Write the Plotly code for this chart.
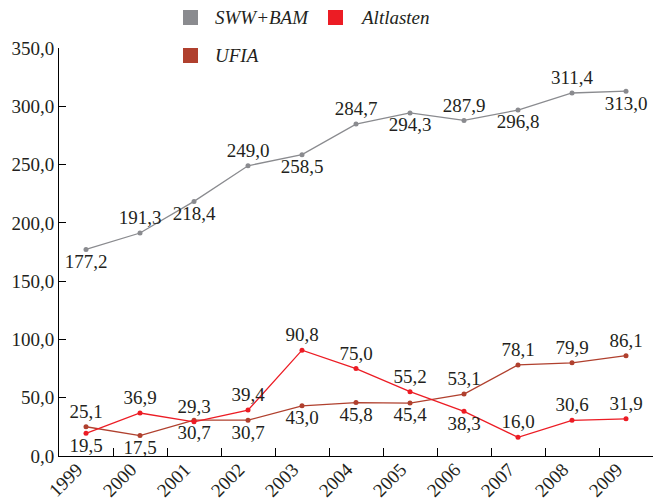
import plotly.graph_objects as go

years = ["1999", "2000", "2001", "2002", "2003", "2004", "2005", "2006", "2007", "2008", "2009"]
sww_bam = [177.2, 191.3, 218.4, 249.0, 258.5, 284.7, 294.3, 287.9, 296.8, 311.4, 313.0]
altlasten = [19.5, 36.9, 29.3, 39.4, 90.8, 75.0, 55.2, 38.3, 16.0, 30.6, 31.9]
ufia = [25.1, 17.5, 30.7, 30.7, 43.0, 45.8, 45.4, 53.1, 78.1, 79.9, 86.1]
y_ticks = [0, 50, 100, 150, 200, 250, 300, 350]

# label placement styles (not data)
pos_sww = ["bottom center", "top center", "bottom center", "top center", "bottom center", "top center",
           "bottom center", "top center", "bottom center", "top center", "bottom center"]
pos_alt = ["bottom center", "top center", "top center", "top center", "top center", "top center",
           "top center", "bottom center", "top center", "top center", "top center"]
pos_ufia = ["top center", "bottom center", "bottom center", "bottom center", "bottom center", "bottom center",
            "bottom center", "top center", "top center", "top center", "top center"]

C_GRAY = "#8a8b8f"
C_RED = "#ec1c24"
C_BROWN = "#b0402e"
FONT = "Liberation Serif"
LBL = dict(family=FONT, size=19, color="#231f20")

fig = go.Figure()
for name, vals, col, pos in [("SWW+BAM", sww_bam, C_GRAY, pos_sww),
                             ("UFIA", ufia, C_BROWN, pos_ufia),
                             ("Altlasten", altlasten, C_RED, pos_alt)]:
    fig.add_trace(go.Scatter(
        x=years, y=vals, name=name, mode="lines+markers+text",
        line=dict(color=col, width=1.3), marker=dict(color=col, size=5),
        texttemplate="%{y:.1f}", textposition=pos, textfont=LBL,
        showlegend=False, cliponaxis=False, hoverinfo="skip"))

# manual legend (pixel -> paper conversion)
L, R, T, B = 59, 653, 48, 456
def px(x): return (x - L) / (R - L)
def py(y): return (B - y) / (B - T)

legend_items = [("SWW+BAM", C_GRAY, 183, 10), ("Altlasten", C_RED, 328, 10), ("UFIA", C_BROWN, 183, 48)]
for name, col, x0, y0 in legend_items:
    fig.add_shape(type="rect", xref="paper", yref="paper",
                  x0=px(x0), x1=px(x0 + 15), y0=py(y0 + 15), y1=py(y0),
                  fillcolor=col, line=dict(width=0))
    fig.add_annotation(xref="paper", yref="paper", x=px(x0 + 30), y=py(y0 + 7.5),
                       text="<i>" + name + "</i>", showarrow=False, xanchor="left", yanchor="middle",
                       font=dict(family=FONT, size=19, color="#231f20"))

fig.update_layout(
    width=667, height=502,
    margin=dict(l=L, r=667 - R, t=T, b=502 - B, autoexpand=False),
    plot_bgcolor="white", paper_bgcolor="white",
    separators=",.",
    font=dict(family=FONT, size=19, color="#231f20"),
)
fig.update_xaxes(type="category", range=[-0.5, 10.5], tickson="boundaries", automargin=False,
                 ticks="inside", ticklen=8, tickcolor="black", showline=True, linecolor="black",
                 linewidth=1, showgrid=False, tickangle=-45, tickfont=LBL, zeroline=False,
                 ticklabelshift=-9, ticklabelstandoff=-6)
fig.update_yaxes(range=[0, 350], tickvals=y_ticks, tickformat=".1f", ticks="inside", ticklen=7,
                 automargin=False,
                 tickcolor="black", showline=True, linecolor="black", linewidth=1, showgrid=False,
                 zeroline=False, tickfont=LBL)

fig.write_html("out.html", config={"displayModeBar": False},
               post_script="document.body.style.margin='0';")
